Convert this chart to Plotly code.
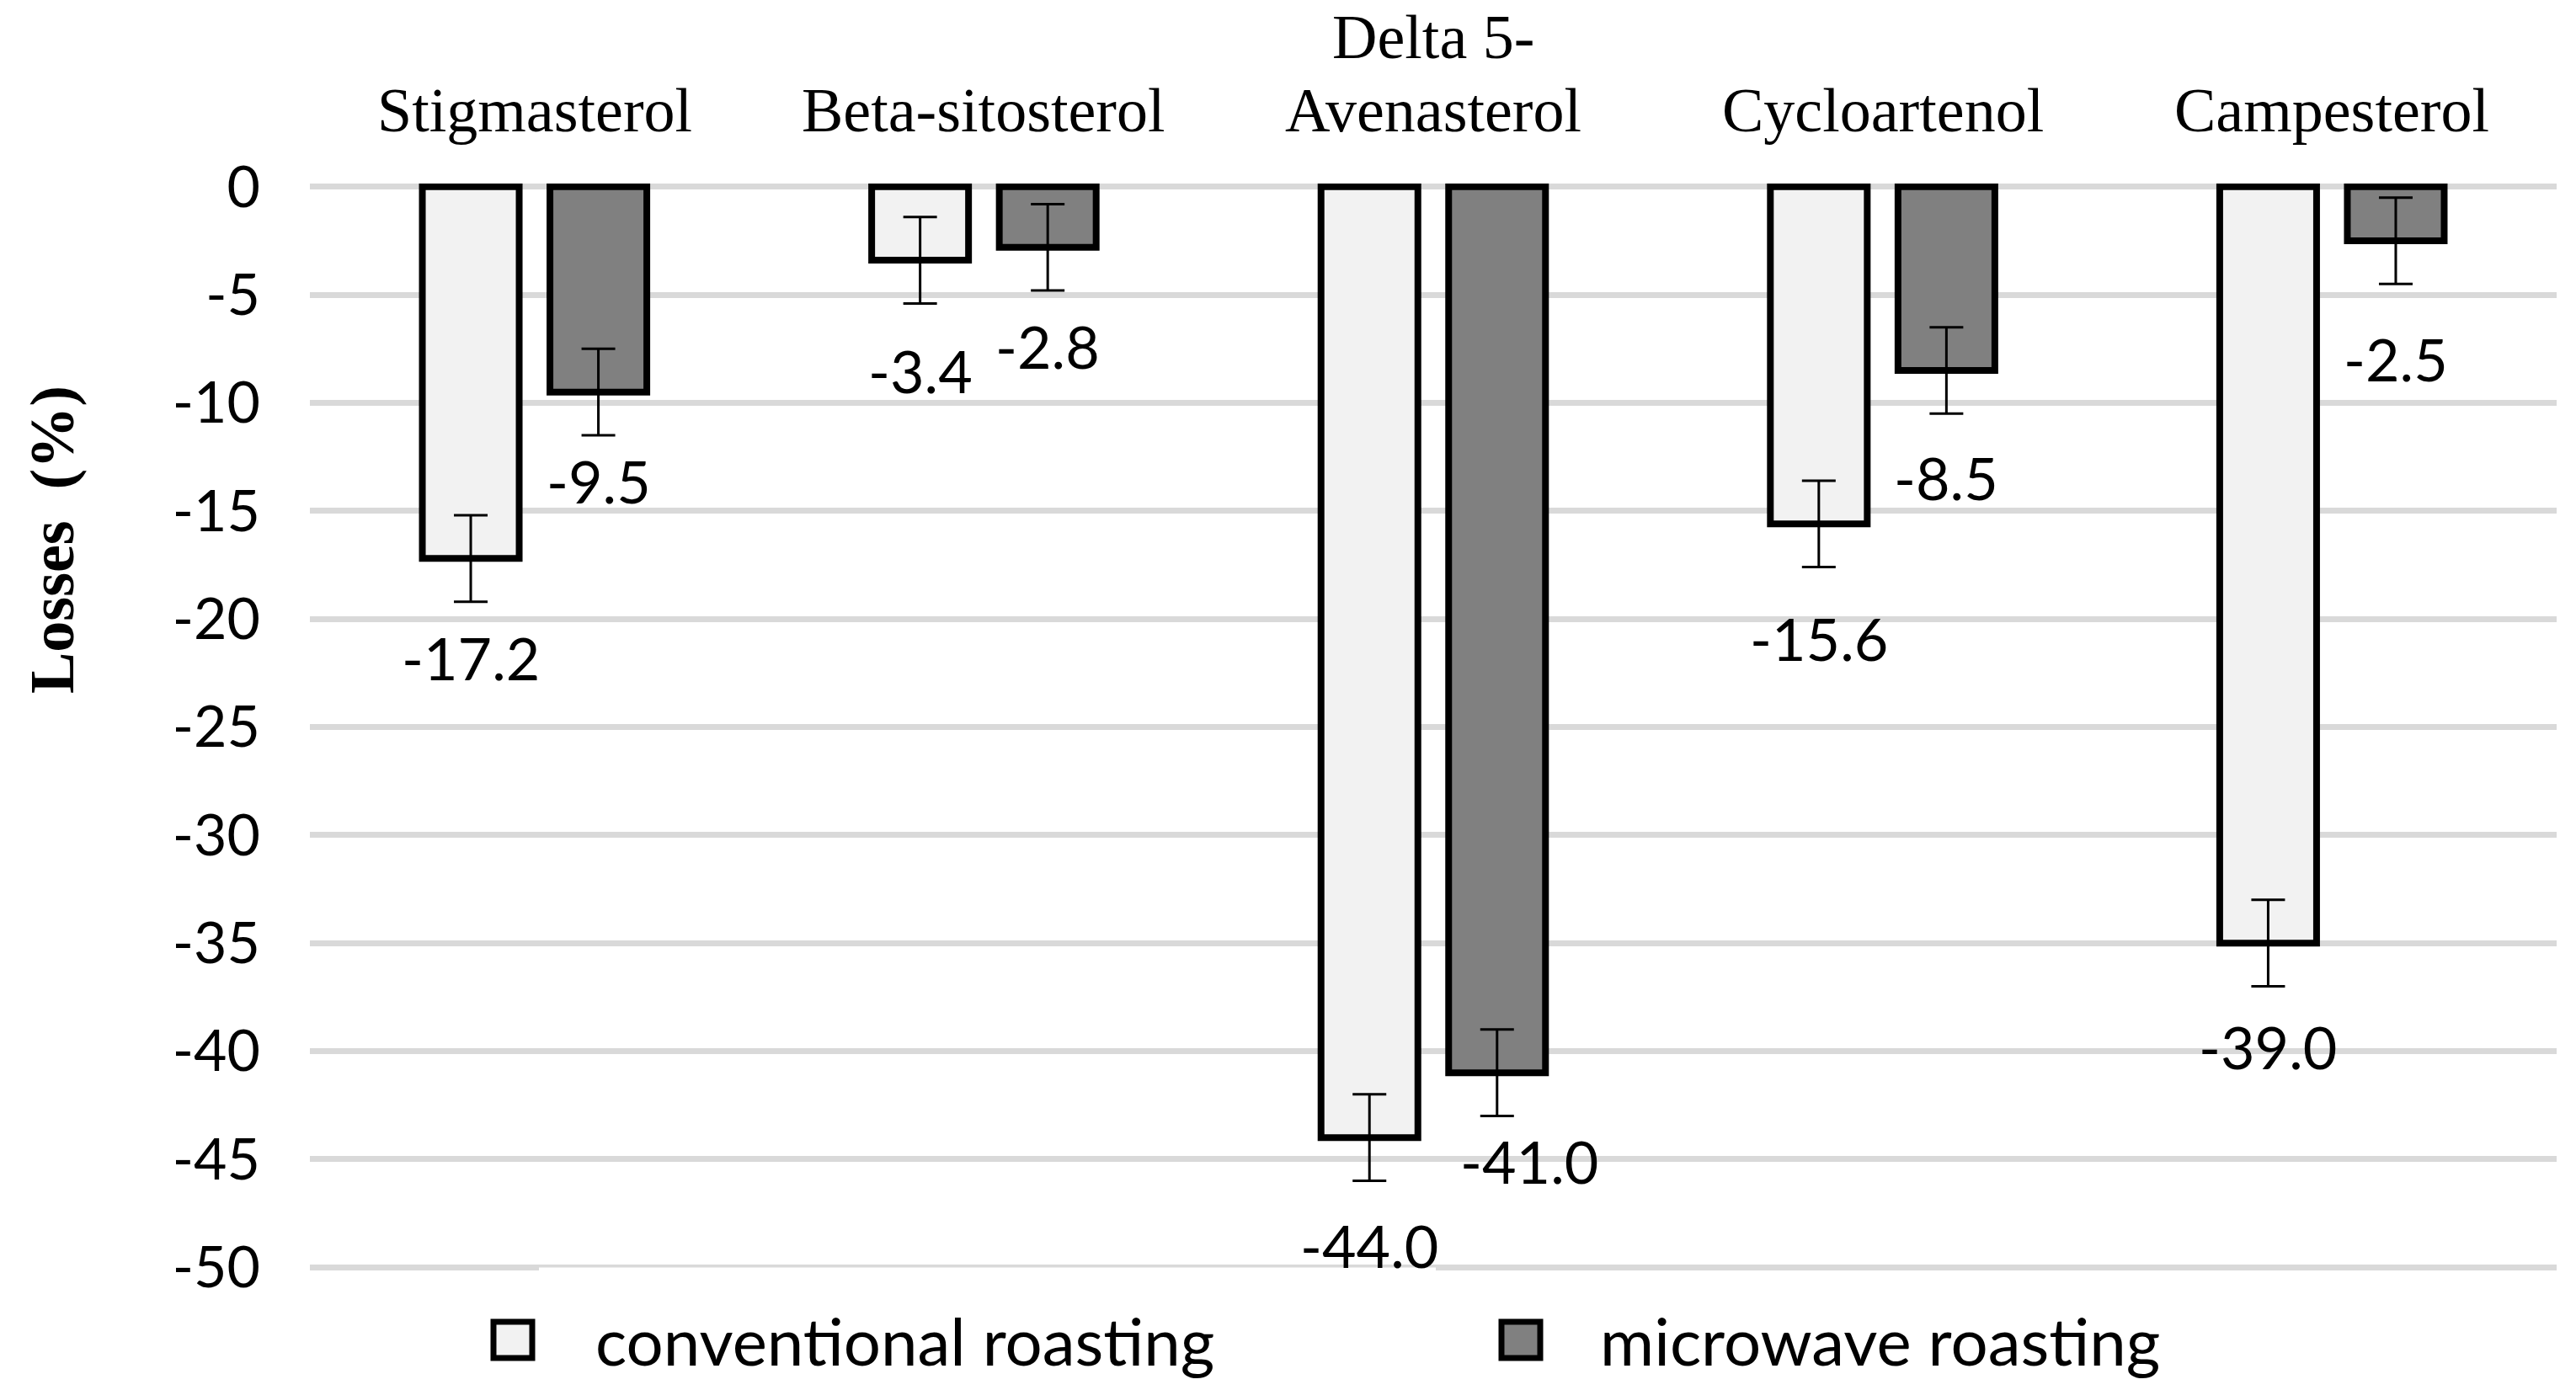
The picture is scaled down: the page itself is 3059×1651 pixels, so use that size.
import plotly.graph_objects as go

# ---------------- data ----------------
categories = ["Stigmasterol", "Beta-sitosterol", "Delta 5-\nAvenasterol", "Cycloartenol", "Campesterol"]
conventional = [-17.2, -3.4, -44.0, -15.6, -35.0]
microwave = [-9.5, -2.8, -41.0, -8.5, -2.5]
conventional_err = [2.0, 2.0, 2.0, 2.0, 2.0]
microwave_err = [2.0, 2.0, 2.0, 2.0, 2.0]
conventional_labels = ["-17.2", "-3.4", "-44.0", "-15.6", "-39.0"]
microwave_labels = ["-9.5", "-2.8", "-41.0", "-8.5", "-2.5"]
series_names = ["conventional roasting", "microwave roasting"]
y_ticks = [0, -5, -10, -15, -20, -25, -30, -35, -40, -45, -50]

# ---------------- style ----------------
W, H = 3059, 1651
ML, MT = 368, 218
PW, PH = 2668, 1291
MR, MB = W - ML - PW, H - MT - PH
BARGAP = 0.432
BARGROUPGAP = 0.241
OFF = (1 - BARGAP) / 4          # centre offset of each bar in the group
C_CONV = "#f2f2f2"
C_MICRO = "#808080"
GRID = "#d9d9d9"
SANS = "Lato"
SERIF = "Liberation Serif"
# label placement (distance below the error-bar end, in axis units) and x nudges in px
conv_gap = [2.6, 3.1, 3.0, 3.3, 2.8]
micro_gap = [2.1, 2.55, 2.1, 2.95, 3.45]
micro_xshift = [0, 0, 38, 0, 0]
CAT_LINE_BOTTOMS = [174, 87]    # px from top: bottom of last line, previous line

xs = list(range(len(categories)))


def px2paper_x(px):
    return (px - ML) / PW


def px2paper_y(py):
    return (MT + PH - py) / PH


fig = go.Figure()
for name, vals, errs, col in [
    (series_names[0], conventional, conventional_err, C_CONV),
    (series_names[1], microwave, microwave_err, C_MICRO),
]:
    fig.add_trace(go.Bar(
        x=xs, y=vals, name=name,
        marker=dict(color=col, line=dict(color="black", width=8)),
        error_y=dict(type="data", array=errs, visible=True, color="black",
                     thickness=3, width=20),
        showlegend=False,
    ))

annotations = []
for i in xs:
    annotations.append(dict(
        x=i - OFF, y=conventional[i] - conventional_err[i] - conv_gap[i],
        xref="x", yref="y", text=conventional_labels[i], showarrow=False,
        xanchor="center", yanchor="middle",
        font=dict(family=SANS, size=70, color="black")))
    annotations.append(dict(
        x=i + OFF, y=microwave[i] - microwave_err[i] - micro_gap[i],
        xref="x", yref="y", text=microwave_labels[i], showarrow=False,
        xanchor="center", yanchor="middle", xshift=micro_xshift[i],
        font=dict(family=SANS, size=70, color="black")))

# category labels above the plot (one text per line, tight line spacing)
for i, cat in enumerate(categories):
    lines = cat.split("\n")[::-1]
    for k, line in enumerate(lines):
        annotations.append(dict(
            x=i, y=px2paper_y(CAT_LINE_BOTTOMS[k]), xref="x", yref="paper",
            text=line, showarrow=False, xanchor="center", yanchor="bottom",
            font=dict(family=SERIF, size=74, color="black")))

# y-axis title
annotations.append(dict(
    x=px2paper_x(62), y=px2paper_y(641), xref="paper", yref="paper",
    text="<b>Losses\u00a0\u00a0(%)</b>", textangle=-90, showarrow=False,
    xanchor="center", yanchor="middle",
    font=dict(family=SERIF, size=74, color="black")))

# custom legend
legend_items = [
    (series_names[0], C_CONV, 586, 705),
    (series_names[1], C_MICRO, 1783, 1898),
]
shapes = []
for name, col, mx, tx in legend_items:
    shapes.append(dict(
        type="rect", xref="paper", yref="paper",
        x0=px2paper_x(mx), x1=px2paper_x(mx + 46),
        y0=px2paper_y(1613), y1=px2paper_y(1570),
        fillcolor=col, line=dict(color="black", width=7), layer="above"))
    annotations.append(dict(
        x=px2paper_x(tx), y=px2paper_y(1592), xref="paper", yref="paper",
        text=name, showarrow=False, xanchor="left", yanchor="middle",
        font=dict(family=SANS, size=78, color="black")))

# partial lighter section of the bottom grid line (covered by the legend box)
shapes.append(dict(
    type="rect", xref="paper", yref="paper",
    x0=px2paper_x(640), x1=px2paper_x(1705),
    y0=px2paper_y(1510), y1=px2paper_y(1505.5),
    fillcolor="white", line=dict(width=0), layer="above"))

fig.update_layout(
    width=W, height=H,
    margin=dict(l=ML, r=MR, t=MT, b=MB, pad=0, autoexpand=False),
    paper_bgcolor="white", plot_bgcolor="white",
    barmode="group", bargap=BARGAP, bargroupgap=BARGROUPGAP,
    annotations=annotations, shapes=shapes,
    xaxis=dict(
        side="top", range=[-0.5, len(categories) - 0.5],
        tickvals=xs, showticklabels=False, automargin=False,
        showgrid=False, zeroline=False, showline=False, ticks="",
    ),
    yaxis=dict(
        range=[-50.15, 0.15], tickvals=y_ticks, ticktext=[str(v) for v in y_ticks],
        automargin=False,
        showgrid=True, gridcolor=GRID, gridwidth=7,
        zeroline=False, showline=False, ticks="",
        tickfont=dict(family=SANS, size=68, color="black"),
        ticklabelstandoff=58,
    ),
)

fig.write_html("out.html", config={"displayModeBar": False},
               post_script="document.body.style.margin='0';")
